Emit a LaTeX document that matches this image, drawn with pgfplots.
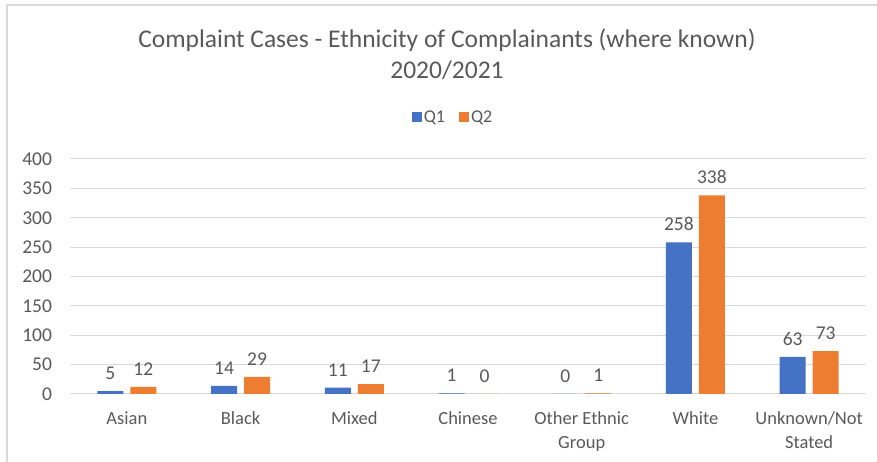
\documentclass[border=0pt]{standalone}
\usepackage{pgfplots}
\pgfplotsset{compat=1.18}
\usepackage{fontspec}
\setmainfont{Carlito}
\definecolor{qone}{HTML}{4472C4}
\definecolor{qtwo}{HTML}{ED7D31}
\definecolor{txt}{HTML}{595959}
\definecolor{gridc}{HTML}{D9D9D9}
\begin{document}
\begin{tikzpicture}
\begin{axis}[
  name=main,
  scale only axis, width=796pt, height=235pt,
  ymin=0, ymax=400, ytick={0,50,...,400},
  xmin=-0.5, xmax=6.5,
  xtick={0,...,6},
  xticklabels={Asian,Black,Mixed,Chinese,{Other Ethnic\\Group},White,{Unknown/Not\\Stated}},
  x tick label style={align=center, font=\fontsize{18.5}{24}\selectfont, text=txt, yshift=-14pt},
  y tick label style={font=\fontsize{19.5}{20}\selectfont, text=txt, xshift=-14.5pt},
  /pgf/number format/assume math mode=true,
  ymajorgrids, grid style={gridc, line width=1pt},
  axis line style={draw=none},
  major tick length=0pt,
  ybar, bar width=26pt,
  nodes near coords,
  every node near coord/.append style={font=\fontsize{19.5}{20}\selectfont, text=txt, yshift=8pt},
  title={Complaint Cases - Ethnicity of Complainants (where known)\\2020/2021},
  title style={align=center, font=\fontsize{25.5}{31}\selectfont, text=txt, at={(0.4736,1)}, anchor=center, yshift=98.5pt},
  legend style={at={(0.4812,1)}, anchor=center, yshift=42pt, draw=none, fill=none, font=\fontsize{18}{19}\selectfont, text=txt, legend columns=2, /tikz/every even column/.append style={column sep=12pt}},
  legend image code/.code={\fill[#1] (0pt,-5pt) rectangle (10pt,5pt);},
]
\addplot[fill=qone, draw=none, bar shift=-16.5pt] coordinates {(0,5) (1,14) (2,11) (3,1) (4,0) (5,258) (6,63)};
\addplot[fill=qtwo, draw=none, bar shift=16.5pt] coordinates {(0,12) (1,29) (2,17) (3,0) (4,1) (5,338) (6,73)};
\legend{Q1,Q2}
\end{axis}
% chart frame, measured from the plot area's lower left corner
\draw[gridc, line width=1.2pt] ([shift={(-63pt,-80pt)}]main.south west) -- ([shift={(-63pt,154pt)}]main.north west) -- ([shift={(20pt,154pt)}]main.north east);
\pgfresetboundingbox
\useasboundingbox ([shift={(-70pt,-68pt)}]main.south west) rectangle ([shift={(11pt,159pt)}]main.north east);
\end{tikzpicture}
\end{document}
